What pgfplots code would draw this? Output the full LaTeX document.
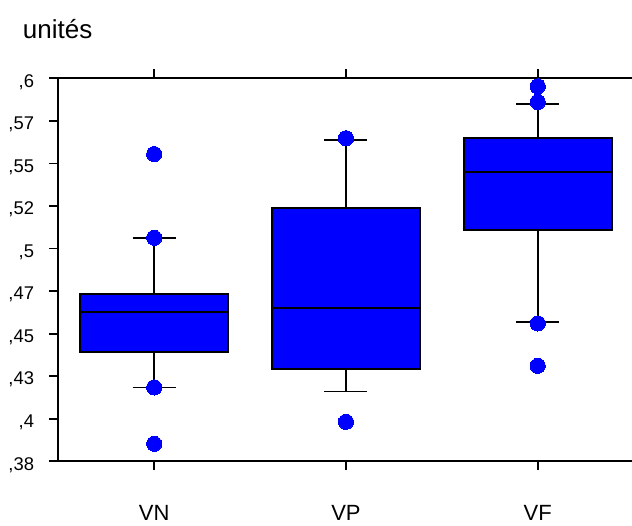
\documentclass[border=0pt]{standalone}
\usepackage{pgfplots}
\pgfplotsset{compat=1.18}
\usepgfplotslibrary{statistics}
\usepackage{fontspec}
\setmainfont{Liberation Sans}
\definecolor{boxblue}{RGB}{0,0,255}

\begin{document}
\begin{tikzpicture}
\begin{axis}[
  name=ax,
  scale only axis,
  width=431.5pt, height=287.25pt,
  xmin=0.5, xmax=3.5,
  ymin=0.375, ymax=0.6,
  axis x line=box, axis y line=left,
  axis line style={-, line width=1.5pt, black},
  tick align=outside,
  major tick length=6.75pt,
  tick style={line width=1.3pt, black},
  xtick={1,2,3},
  xticklabels={VN,VP,VF},
  xticklabel style={anchor=base, font=\fontsize{16.5}{19}\selectfont, yshift=-37.8pt},
  ytick={0.375,0.4,0.425,0.45,0.475,0.5,0.525,0.55,0.575,0.6},
  yticklabels={{,38},{,4},{,43},{,45},{,47},{,5},{,52},{,55},{,57},{,6}},
  yticklabel style={anchor=base east, inner sep=0pt, xshift=-11.25pt, yshift=-6.6pt,
    font=\fontsize{13.8}{16}\selectfont},
  clip=false,
  boxplot/draw direction=y,
  boxplot/box extend=0.771,
  boxplot/whisker extend=0.224,
  boxplot/every box/.style={fill=boxblue, draw=black, line width=1.5pt},
  boxplot/every median/.style={draw=black, line width=1.5pt},
  boxplot/every whisker/.style={draw=black, line width=1.2pt},
]
% VN
\addplot[boxplot prepared={draw position=1,
  lower whisker=0.4184, lower quartile=0.4394, median=0.4629,
  upper quartile=0.4734, upper whisker=0.5063}] coordinates {};
% VP
\addplot[boxplot prepared={draw position=2,
  lower whisker=0.4159, lower quartile=0.4290, median=0.4650,
  upper quartile=0.5240, upper whisker=0.5639}] coordinates {};
% VF
\addplot[boxplot prepared={draw position=3,
  lower whisker=0.4570, lower quartile=0.5111, median=0.5449,
  upper quartile=0.5651, upper whisker=0.5849}] coordinates {};

% extreme values
\addplot[boxblue, only marks, mark=*, mark size=5.7pt,
  mark options={draw=boxblue, fill=boxblue, line width=0pt}]
  coordinates {(1,0.5555) (1,0.5063) (1,0.4184) (1,0.3853)
               (2,0.5648) (2,0.3982)
               (3,0.5953) (3,0.5861) (3,0.4560) (3,0.4311)};

\node[anchor=base west, inner sep=0pt, font=\fontsize{19.5}{23}\selectfont]
  at (rel axis cs:-0.0619,1.1044) {unités};
\end{axis}
\pgfresetboundingbox
\path[use as bounding box] (ax.south west) ++(-43.725pt,-47.775pt) rectangle ++(474pt,393.75pt);
\end{tikzpicture}
\end{document}
